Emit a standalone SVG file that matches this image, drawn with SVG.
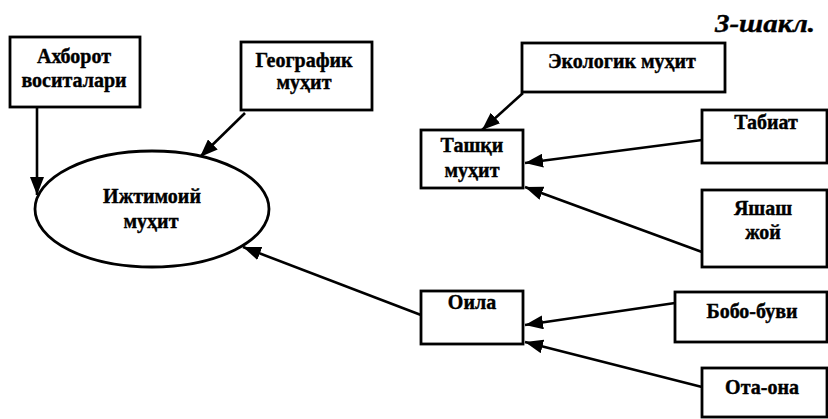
<svg xmlns="http://www.w3.org/2000/svg" width="828" height="419" viewBox="0 0 828 419">
<style>
.box{fill:#fff;stroke:#000;stroke-width:2.8}
.t{font-family:"Liberation Serif","DejaVu Serif",serif;font-weight:bold;font-size:20px;fill:#000;stroke:#000;stroke-width:0.4;text-anchor:middle}
.title{font-family:"Liberation Serif","DejaVu Serif",serif;font-weight:bold;font-style:italic;font-size:26px;fill:#000;stroke:#000;stroke-width:0.4}
.c{fill:none;stroke:#000;stroke-width:2.6}
</style>
<defs>
<marker id="ah" viewBox="0 0 18 14" refX="18" refY="7" markerWidth="18" markerHeight="14" markerUnits="userSpaceOnUse" orient="auto">
<path d="M0,0 L18,7 L0,14 z" fill="#000"/>
</marker>
</defs>
<rect width="828" height="419" fill="#fff"/>
<text class="title" x="715" y="32" textLength="100" lengthAdjust="spacingAndGlyphs">3-шакл.</text>
<g id="connectors">
<line class="c" x1="37" y1="108" x2="37" y2="195" marker-end="url(#ah)"/>
<line class="c" x1="245" y1="113" x2="200" y2="157" marker-end="url(#ah)"/>
<line class="c" x1="523" y1="93" x2="482" y2="130" marker-end="url(#ah)"/>
<line class="c" x1="702" y1="140" x2="525" y2="163" marker-end="url(#ah)"/>
<line class="c" x1="702" y1="252" x2="525" y2="187" marker-end="url(#ah)"/>
<line class="c" x1="421" y1="315" x2="243" y2="247" marker-end="url(#ah)"/>
<line class="c" x1="675" y1="303" x2="525" y2="325" marker-end="url(#ah)"/>
<line class="c" x1="702" y1="387" x2="525" y2="342" marker-end="url(#ah)"/>
</g>
<g id="axborot">
<rect class="box" x="10" y="37" width="130" height="70"/>
<text class="t" x="74" y="63">Ахборот</text>
<text class="t" x="74" y="87">воситалари</text>
</g>
<g id="geografik">
<rect class="box" x="241" y="42" width="131" height="68"/>
<text class="t" x="304" y="67">Географик</text>
<text class="t" x="304" y="89">муҳит</text>
</g>
<g id="ijtimoiy">
<ellipse class="box" cx="152" cy="209" rx="117" ry="58"/>
<text class="t" x="152" y="203">Ижтимоий</text>
<text class="t" x="151" y="228">муҳит</text>
</g>
<g id="ekologik">
<rect class="box" x="522" y="43" width="203" height="49"/>
<text class="t" x="622" y="68">Экологик муҳит</text>
</g>
<g id="tashqi">
<rect class="box" x="421" y="130" width="102" height="58"/>
<text class="t" x="472" y="152">Ташқи</text>
<text class="t" x="472" y="177">муҳит</text>
</g>
<g id="tabiat">
<rect class="box" x="702" y="110" width="125" height="53"/>
<text class="t" x="766" y="129">Табиат</text>
</g>
<g id="yashash">
<rect class="box" x="702" y="190" width="125" height="77"/>
<text class="t" x="763" y="215">Яшаш</text>
<text class="t" x="763" y="239">жой</text>
</g>
<g id="oila">
<rect class="box" x="421" y="291" width="102" height="53"/>
<text class="t" x="472" y="309">Оила</text>
</g>
<g id="bobo">
<rect class="box" x="675" y="292" width="152" height="50"/>
<text class="t" x="752" y="318">Бобо-буви</text>
</g>
<g id="ota">
<rect class="box" x="702" y="368" width="125" height="49"/>
<text class="t" x="762" y="394">Ота-она</text>
</g>
</svg>
